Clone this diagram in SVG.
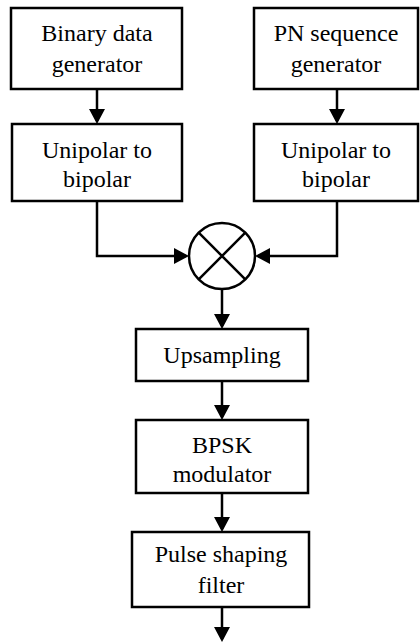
<svg xmlns="http://www.w3.org/2000/svg" width="420" height="642" viewBox="0 0 420 642">
<style>
.box{fill:#fff;stroke:#000;stroke-width:2.5}
.t{font-family:"Liberation Serif","Times New Roman",serif;font-size:24px;fill:#000;text-anchor:middle}
.c{fill:none;stroke:#000;stroke-width:2.5}
</style>
<defs>
<marker id="ah" viewBox="0 0 15 16" refX="12" refY="8" markerWidth="15" markerHeight="16" orient="auto" markerUnits="userSpaceOnUse">
<path d="M0,0 L15,8 L0,16 Z" fill="#000"/>
</marker>
</defs>
<g id="connectors">
<path class="c" d="M97,89 V121" marker-end="url(#ah)"/>
<path class="c" d="M337,89 V121" marker-end="url(#ah)"/>
<path class="c" d="M97,201 V256 H186" marker-end="url(#ah)"/>
<path class="c" d="M337,201 V256 H258" marker-end="url(#ah)"/>
<path class="c" d="M222,289 V326" marker-end="url(#ah)"/>
<path class="c" d="M222,381 V417" marker-end="url(#ah)"/>
<path class="c" d="M222,493 V529" marker-end="url(#ah)"/>
<path class="c" d="M222,607 V639" marker-end="url(#ah)"/>
</g>
<g id="binary">
<rect class="box" x="11" y="8" width="171" height="81"/>
<text class="t" x="97" y="41">Binary data</text>
<text class="t" x="97" y="72">generator</text>
</g>
<g id="pn">
<rect class="box" x="254" y="8" width="164" height="81"/>
<text class="t" x="336" y="41">PN sequence</text>
<text class="t" x="336" y="72">generator</text>
</g>
<g id="u2b-left">
<rect class="box" x="12" y="124" width="170" height="77"/>
<text class="t" x="97" y="158">Unipolar to</text>
<text class="t" x="97" y="187">bipolar</text>
</g>
<g id="u2b-right">
<rect class="box" x="254" y="124" width="164" height="77"/>
<text class="t" x="336" y="158">Unipolar to</text>
<text class="t" x="336" y="187">bipolar</text>
</g>
<g id="mixer">
<circle cx="222" cy="256" r="33" class="c"/>
<path class="c" d="M198.7,232.7 L245.3,279.3 M245.3,232.7 L198.7,279.3"/>
</g>
<g id="upsampling">
<rect class="box" x="136" y="329" width="172" height="52"/>
<text class="t" x="222" y="363">Upsampling</text>
</g>
<g id="bpsk">
<rect class="box" x="136" y="420" width="172" height="73"/>
<text class="t" x="222" y="453">BPSK</text>
<text class="t" x="222" y="482">modulator</text>
</g>
<g id="pulse">
<rect class="box" x="132" y="532" width="177" height="75"/>
<text class="t" x="221" y="562">Pulse shaping</text>
<text class="t" x="221" y="593">filter</text>
</g>
</svg>
